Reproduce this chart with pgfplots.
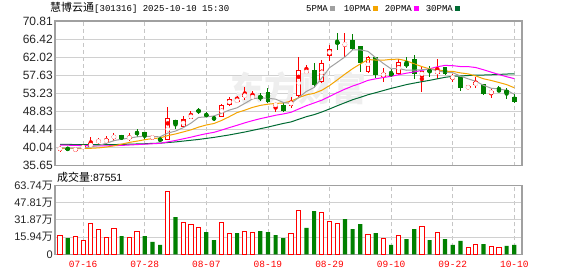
\documentclass[border=0pt]{standalone}
\usepackage{pgfplots}
\pgfplotsset{compat=1.18}
\usepackage{pgfplotstable}
\usepackage{fontspec}
\setmainfont{Liberation Sans}
\newfontfamily\cjk{Noto Sans CJK SC}
\newfontfamily\mono{Liberation Mono}
\definecolor{upred}{HTML}{FF0000}
\definecolor{dngreen}{HTML}{008000}
\definecolor{ma5c}{HTML}{A0A0A0}
\definecolor{ma10c}{HTML}{F5A500}
\definecolor{ma20c}{HTML}{FF00FF}
\definecolor{ma30c}{HTML}{006B33}
\definecolor{bordc}{HTML}{A0A0A0}
\definecolor{gridc}{HTML}{D0D0D0}

\pgfplotstableread{
x o h l c
0 39.31 40.45 39.07 40.28
2 39.3 40.2 38.9 39.9
3 40.0 40.7 39.8 40.4
4 40.14 42.56 40.1 41.25
5 41.35 42.3 41.0 41.9
6 41.35 42.9 40.9 42.1
7 42.2 43.7 41.6 43.1
9 42.3 43.5 41.6 42.6
12 42.4 42.9 42.1 42.7
14 41.9 50.0 41.9 47.2
16 45.1 47.7 44.9 47.0
17 47.0 49.0 47.0 48.2
21 47.57 50.65 47.4 50.41
22 50.4 52.4 50.2 51.9
23 51.4 52.7 51.2 51.6
24 52.3 54.85 51.6 53.1
25 52.2 53.8 52.0 52.5
28 50.3 50.8 48.8 50.6
30 50.2 52.4 49.6 51.4
31 52.6 62.1 52.4 58.9
32 58.25 60.2 58.1 58.7
34 56.1 61.3 55.7 60.5
35 62.4 64.97 61.1 63.9
37 65.0 67.96 62.1 65.3
40 58.5 62.3 58.1 62.1
42 57.3 59.5 56.1 58.25
44 57.9 61.5 57.7 60.9
47 57.3 59.9 53.6 58.7
49 57.9 61.6 56.65 58.9
51 56.8 57.9 56.1 57.45
53 54.45 55.3 54.2 55.0
54 55.3 57.1 54.6 55.9
56 53.25 54.3 52.2 53.8
}\upc

\pgfplotstableread{
x o h l c
1 40.04 40.3 39.2 39.5
8 43.05 43.1 41.8 42.2
10 43.8 44.5 42.7 43.4
11 43.9 43.9 42.0 42.9
13 42.2 42.4 41.6 41.8
15 46.8 46.8 44.6 45.8
18 49.2 49.6 48.2 48.8
19 48.1 48.6 47.4 47.8
20 47.3 47.8 46.5 47.0
26 52.6 53.3 51.45 51.8
27 53.6 54.5 50.95 51.2
29 50.4 50.8 48.6 49.0
33 58.9 60.5 54.85 55.3
36 65.6 67.8 63.8 65.4
38 66.2 67.65 63.8 63.9
39 64.8 64.8 58.5 60.5
41 62.0 62.0 57.0 57.7
43 58.25 59.1 57.3 57.45
45 60.5 62.0 59.3 59.95
46 61.6 62.55 56.65 57.9
48 58.9 59.9 57.3 58.35
50 59.6 59.7 57.7 57.9
52 57.3 57.3 53.9 54.6
55 55.5 55.5 52.8 53.1
57 54.05 55.0 53.6 53.8
58 54.05 54.5 51.9 53.25
59 52.4 53.1 50.8 51.2
}\dnc

\pgfplotstableread{
x ma5 ma10 ma20 ma30
0 40.0 39.9 40.7 40.85
1 39.95 39.9 40.65 40.85
2 39.9 39.85 40.6 40.8
3 40.0 39.85 40.55 40.8
4 40.27 39.9 40.5 40.8
5 40.59 40.0 40.5 40.8
6 41.11 40.2 40.5 40.8
7 41.75 40.5 40.55 40.8
8 42.11 40.9 40.6 40.85
9 42.38 41.33 40.7 40.9
10 42.68 41.64 40.8 40.95
11 42.84 41.98 40.9 41.0
12 42.76 42.26 41.0 41.1
13 42.68 42.40 41.1 41.15
14 43.6 42.99 41.45 41.3
15 44.08 43.38 41.8 41.45
16 44.9 43.87 42.2 41.65
17 46.0 44.38 42.6 41.85
18 47.4 45.04 43.05 42.05
19 47.52 45.56 43.45 42.3
20 47.76 45.92 43.78 42.55
21 48.44 46.67 44.33 42.85
22 49.18 47.59 44.93 43.15
23 49.74 48.57 45.49 43.5
24 50.8 49.16 46.08 43.85
25 51.9 49.83 46.61 44.25
26 52.18 50.31 47.09 44.65
27 52.04 50.61 47.5 45.05
28 51.84 50.79 47.92 45.5
29 51.02 50.91 48.24 45.93
30 50.8 51.35 48.64 46.3
31 52.22 52.2 49.44 46.95
32 53.72 52.88 50.24 47.58
33 54.66 53.25 50.91 48.07
34 56.96 53.99 51.58 48.71
35 59.46 55.13 52.48 49.45
36 60.76 56.49 53.4 50.22
37 62.08 57.9 54.26 50.96
38 63.8 59.23 55.01 51.69
39 63.8 60.38 55.65 52.28
40 63.44 61.45 56.4 52.91
41 61.9 61.33 56.77 53.4
42 60.49 61.29 57.09 53.92
43 59.2 61.5 57.38 54.44
44 59.28 61.54 57.77 54.9
45 58.85 61.15 58.14 55.37
46 58.89 60.4 58.45 55.73
47 58.98 59.74 58.82 56.08
48 59.16 59.18 59.21 56.4
49 58.76 59.02 59.7 56.77
50 58.35 58.6 60.03 57.13
51 58.26 58.58 59.96 57.37
52 57.44 58.21 59.75 57.46
53 56.77 57.97 59.74 57.57
54 56.17 57.47 59.51 57.67
55 55.21 56.78 58.97 57.69
56 54.48 56.37 58.39 57.75
57 54.32 55.88 57.81 57.84
58 53.97 55.37 57.28 57.93
59 53.03 54.6 56.81 58.0
}\mas

\pgfplotstableread{
x v
0 17.5
2 16.6
3 13.2
4 28.9
5 23.0
6 15.7
7 23.9
9 15.7
10 21.5
14 58.0
16 29.8
17 27.9
18 25.2
21 29.8
22 19.3
24 21.5
25 20.6
30 19.3
31 40.5
34 38.7
35 30.4
36 28.9
40 18.7
42 14.7
44 17.5
47 25.8
49 20.6
53 6.4
54 9.2
56 7.7
57 6.4
}\volup

\pgfplotstableread{
x v
1 15.0
8 16.9
11 16.9
12 11.4
13 8.6
15 34.4
19 20.6
20 13.2
23 19.6
26 21.5
27 20.6
28 17.8
29 15.0
32 24.3
33 39.9
37 32.5
38 23.3
39 27.9
41 19.6
43 8.6
45 14.1
46 23.3
48 13.2
50 14.1
51 8.6
52 12.3
55 9.5
58 7.7
59 8.76
}\voldn

\newcommand{\sq}{\rule[1pt]{5pt}{4.5pt}}

\begin{document}
\begin{tikzpicture}
\useasboundingbox (0pt,0pt) rectangle (578pt,276pt);
\fill[white] (0pt,0pt) rectangle (578pt,276pt);

\node[anchor=base west, inner sep=0pt] at (50pt,264pt) {{\cjk\fontsize{11}{12}\selectfont 慧博云通}{\mono\fontsize{9}{11}\selectfont [301316] 2025-10-10 15:30}};
\node[anchor=base west, inner sep=0pt] at (306pt,264pt) {\mono\fontsize{9}{11}\selectfont 5PMA\hspace{2pt}{\color{ma5c}\sq}\hspace{9pt}10PMA\hspace{2pt}{\color{ma10c}\sq}\hspace{7pt}20PMA\hspace{2pt}{\color{ma20c}\sq}\hspace{7pt}30PMA\hspace{2pt}{\color{ma30c}\sq}};
\node[anchor=base west, inner sep=0pt] at (57pt,95pt) {{\cjk\fontsize{11}{12}\selectfont 成交量}{\fontsize{10.5}{12}\selectfont :87551}};

\begin{axis}[at={(55pt,110.2pt)}, anchor=south west, scale only axis,
  width=467pt, height=144.8pt,
  xmin=-0.65, xmax=60, ymin=35.65, ymax=70.81,
  axis line style={bordc, line width=1.2pt},
  xtick={3,11,19,27,35,43,51,59}, xticklabels={},
  ytick={35.65,40.04,44.44,48.83,53.23,57.63,62.02,66.42,70.81},
  yticklabels={35.65,40.04,44.44,48.83,53.23,57.63,62.02,66.42,70.81},
  yticklabel style={font=\fontsize{12}{13}\selectfont, text=black!85, inner xsep=2pt},
  major tick length=0pt,
  xmajorgrids, ymajorgrids,
  major x grid style={gray!45, dash pattern=on 4pt off 3pt, line width=0.8pt},
  major y grid style={gridc, line width=0.9pt},
  clip=true]
\node[text=gray!13, font=\cjk\bfseries\fontsize{34}{34}\selectfont] at (axis cs:31,54.5) {东方财富};
% wicks
\addplot[upred, only marks, mark=none, error bars/.cd, y dir=both, y explicit, error mark=none,
  error bar style={draw=upred, line width=1pt}]
  table[x=x, y expr={(\thisrow{h}+\thisrow{l})/2}, y error expr={(\thisrow{h}-\thisrow{l})/2}] {\upc};
\addplot[dngreen, only marks, mark=none, error bars/.cd, y dir=both, y explicit, error mark=none,
  error bar style={draw=dngreen, line width=1pt}]
  table[x=x, y expr={(\thisrow{h}+\thisrow{l})/2}, y error expr={(\thisrow{h}-\thisrow{l})/2}] {\dnc};
% bodies
\addplot[upred, only marks, mark=none, error bars/.cd, y dir=both, y explicit, error mark=none,
  error bar style={draw=upred, line width=4.8pt}]
  table[x=x, y expr={(\thisrow{o}+\thisrow{c})/2}, y error expr={max(abs(\thisrow{c}-\thisrow{o})/2,0.13)}] {\upc};
\addplot[white, only marks, mark=none, error bars/.cd, y dir=both, y explicit, error mark=none,
  error bar style={draw=white, line width=2.8pt}]
  table[x=x, y expr={(\thisrow{o}+\thisrow{c})/2}, y error expr={max(abs(\thisrow{c}-\thisrow{o})/2-0.24,0)}] {\upc};
\addplot[dngreen, only marks, mark=none, error bars/.cd, y dir=both, y explicit, error mark=none,
  error bar style={draw=dngreen, line width=4.8pt}]
  table[x=x, y expr={(\thisrow{o}+\thisrow{c})/2}, y error expr={max(abs(\thisrow{c}-\thisrow{o})/2,0.13)}] {\dnc};
% moving averages
\addplot[ma30c, line width=1pt, mark=none] table[x=x, y=ma30] {\mas};
\addplot[ma20c, line width=1pt, mark=none] table[x=x, y=ma20] {\mas};
\addplot[ma10c, line width=1pt, mark=none] table[x=x, y=ma10] {\mas};
\addplot[ma5c, line width=1pt, mark=none] table[x=x, y=ma5] {\mas};
\end{axis}

\begin{axis}[at={(55pt,21.7pt)}, anchor=south west, scale only axis,
  width=467pt, height=69pt,
  xmin=-0.65, xmax=60, ymin=0, ymax=63.74,
  axis line style={bordc, line width=1.2pt},
  xtick={3,11,19,27,35,43,51,59},
  xticklabels={07-16,07-28,08-07,08-19,08-29,09-10,09-22,10-10},
  xticklabel style={text=upred, font=\mono\fontsize{9.5}{11}\selectfont, yshift=-3pt},
  ytick={0,15.94,31.87,47.81,63.74},
  yticklabels={0,15.94{\cjk 万},31.87{\cjk 万},47.81{\cjk 万},63.74{\cjk 万}},
  yticklabel style={font=\fontsize{11}{12}\selectfont, text=black!85, inner xsep=2pt},
  major tick length=0pt,
  xmajorgrids, ymajorgrids,
  major x grid style={gray!45, dash pattern=on 4pt off 3pt, line width=0.8pt},
  major y grid style={gridc, line width=0.9pt},
  clip=true]
\addplot[ybar, bar width=4.2pt, bar shift=0pt, draw=upred, fill=white, line width=0.9pt] table[x=x, y=v] {\volup};
\addplot[ybar, bar width=4.2pt, bar shift=0pt, draw=none, fill=dngreen] table[x=x, y=v] {\voldn};
\end{axis}
\end{tikzpicture}
\end{document}
